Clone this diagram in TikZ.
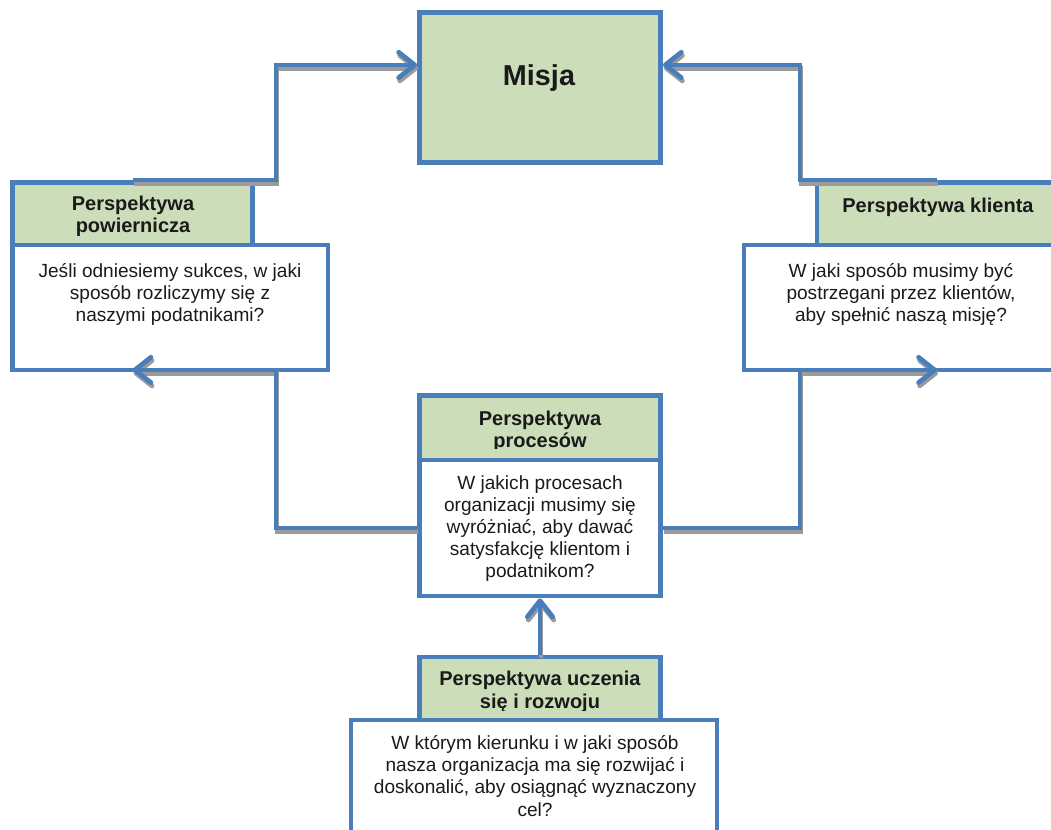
\documentclass[tikz,border=0pt]{standalone}
\usepackage{fontspec}
\setmainfont{Liberation Sans}
\usetikzlibrary{arrows.meta,fit,calc}
\definecolor{bsblue}{RGB}{74,126,187}
\definecolor{bsgreen}{RGB}{204,221,186}
\definecolor{bsshadow}{RGB}{155,155,155}
\definecolor{bstext}{RGB}{26,26,26}
\tikzset{
  hdrbox/.style={draw=bsblue, fill=bsgreen, line width=3.6pt, inner sep=0pt},
  bodybox/.style={draw=bsblue, fill=white, line width=3.6pt, inner sep=0pt},
  bodytxt/.style={font=\fontsize{14.3}{16.6}\selectfont, align=center, inner sep=0pt, text=bstext},
  hdrtxt/.style={font=\fontsize{15}{17}\selectfont\bfseries, align=center, inner sep=0pt, text=bstext},
  conn/.style={draw=bsblue, line width=3.6pt, -{Straight Barb[length=12pt,width=19pt,round]}},
  connsh/.style={conn, draw=bsshadow, transform canvas={shift={(0.8pt,-2.4pt)}}}
}
\newcommand{\bsconn}[1]{\draw[connsh] #1; \draw[conn] #1;}
\begin{document}
\begin{tikzpicture}[x=0.75pt, y=-0.75pt]
\clip (0,0) rectangle (1051,830);
% boxes
\node[hdrbox, fit={(419.5,12.5)(660.5,162.5)}] (misja) {};
\node[hdrbox, fit={(12.5,182.5)(252.5,245)}] (lh) {};
\node[bodybox, fit={(12.5,245)(328,370)}] (lb) {};
\node[hdrbox, fit={(817,182.5)(1057,245)}] (rh) {};
\node[bodybox, fit={(744,245)(1058,370)}] (rb) {};
\node[hdrbox, fit={(419.5,395.5)(660.5,460)}] (ph) {};
\node[bodybox, fit={(419.5,460)(660.5,596)}] (pb) {};
\node[hdrbox, fit={(419.5,657)(660.5,720)}] (uh) {};
\node[bodybox, fit={(351,720)(717,860)}] (ub) {};
% texts
\node[text=bstext, font=\fontsize{21.6}{24}\selectfont\bfseries, inner sep=0pt] (misjat) at (539,77.7) {Misja};
\begin{scope}
  \clip (15,185) rectangle (250,236);
  \node[hdrtxt] (lht) at (133,216.4) {Perspektywa\\powiernicza};
\end{scope}
\node[hdrtxt] (rht) at (938,206.9) {Perspektywa klienta};
\begin{scope}
  \clip (422,398) rectangle (658,449);
  \node[hdrtxt] (pht) at (540,431.4) {Perspektywa\\procesów};
\end{scope}
\begin{scope}
  \clip (422,660) rectangle (658,711);
  \node[hdrtxt] (uht) at (540,691.9) {Perspektywa uczenia\\się i rozwoju};
\end{scope}
\node[bodytxt] (lbt) at (170,294.2) {Jeśli odniesiemy sukces, w jaki\\sposób rozliczymy się z\\naszymi podatnikami?};
\node[bodytxt] (rbt) at (901,294.2) {W jaki sposób musimy być\\postrzegani przez klientów,\\aby spełnić naszą misję?};
\node[bodytxt] (pbt) at (540,528.7) {W jakich procesach\\organizacji musimy się\\wyróżniać, aby dawać\\satysfakcję klientom i\\podatnikom?};
\node[bodytxt] (ubt) at (535,776) {W którym kierunku i w jaki sposób\\nasza organizacja ma się rozwijać i\\doskonalić, aby osiągnąć wyznaczony\\cel?};
% connector bend points
\coordinate (kL) at (276,65);
\coordinate (kR) at (800,65);
\coordinate (bL) at (276,370);
\coordinate (bR) at (800,370);
% connectors
\bsconn{(lh.north) -| (kL) -- (misja.west |- kL)}
\bsconn{(rh.north) -| (kR) -- (misja.east |- kR)}
\bsconn{(pb.west) -| (bL) -- (lh.center |- bL)}
\bsconn{(pb.east) -| (bR) -- (rh.center |- bR)}
\bsconn{(uh.north) -- (pb.south)}
\end{tikzpicture}
\end{document}
